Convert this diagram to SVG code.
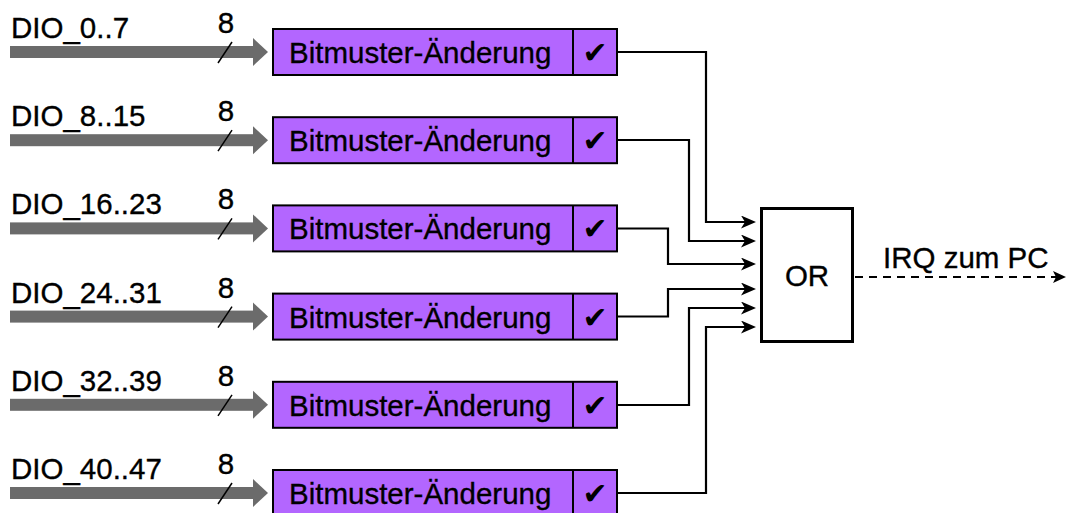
<svg xmlns="http://www.w3.org/2000/svg" width="1066" height="513" viewBox="0 0 1066 513">
<style>
.lbl{font-family:"Liberation Sans",Arial,sans-serif;font-size:29.5px;fill:#000;stroke:#000;stroke-width:0.35}
.box{fill:#b366ff;stroke:#000;stroke-width:2}
.bus{fill:#6b6b6b}
.slash{stroke:#000;stroke-width:1.5}
.chk{font-family:"DejaVu Sans",sans-serif;font-size:30px;font-style:italic;fill:#000;text-anchor:middle}
.wire{fill:none;stroke:#000;stroke-width:2.2}
</style>
<defs>
<marker id="ah" markerUnits="userSpaceOnUse" markerWidth="15" markerHeight="13" refX="9" refY="6.5" orient="auto">
<path d="M0,0 L15,6.5 L0,13 L4,6.5 z" fill="#000"/>
</marker>
<g id="stage">
<rect class="bus" x="10" y="-6" width="244" height="12"/>
<polygon class="bus" points="253,-14 268,0 253,14"/>
<line class="slash" x1="218" y1="11" x2="232" y2="-10"/>
<text class="lbl" x="226" y="-19" text-anchor="middle">8</text>
<rect class="box" x="273" y="-23" width="344" height="46"/>
<line x1="573" y1="-23" x2="573" y2="23" stroke="#000" stroke-width="2"/>
<text class="lbl" x="289" y="11">Bitmuster-Änderung</text>
<text class="chk" x="595" y="11">✔</text>
</g>
</defs>
<g id="n0" transform="translate(0,52)"><use href="#stage"/><text class="lbl" x="11" y="-14">DIO_0..7</text></g>
<g id="n1" transform="translate(0,140.2)"><use href="#stage"/><text class="lbl" x="11" y="-14">DIO_8..15</text></g>
<g id="n2" transform="translate(0,228.4)"><use href="#stage"/><text class="lbl" x="11" y="-14">DIO_16..23</text></g>
<g id="n3" transform="translate(0,316.6)"><use href="#stage"/><text class="lbl" x="11" y="-14">DIO_24..31</text></g>
<g id="n4" transform="translate(0,404.8)"><use href="#stage"/><text class="lbl" x="11" y="-14">DIO_32..39</text></g>
<g id="n5" transform="translate(0,493)"><use href="#stage"/><text class="lbl" x="11" y="-14">DIO_40..47</text></g>
<g id="or">
<rect x="761.5" y="208.5" width="91" height="133" fill="#fff" stroke="#000" stroke-width="3"/>
<text class="lbl" x="807" y="286" text-anchor="middle">OR</text>
</g>
<g id="connectors">
<path class="wire" d="M617 52 H706 V222 H750" marker-end="url(#ah)"/>
<path class="wire" d="M617 140 H689 V241 H750" marker-end="url(#ah)"/>
<path class="wire" d="M617 228.5 H668 V264 H750" marker-end="url(#ah)"/>
<path class="wire" d="M617 316.5 H668 V289 H750" marker-end="url(#ah)"/>
<path class="wire" d="M617 405 H689 V308 H750" marker-end="url(#ah)"/>
<path class="wire" d="M617 493 H706 V327 H750" marker-end="url(#ah)"/>
<path d="M855 277 H1058" fill="none" stroke="#000" stroke-width="2" stroke-dasharray="8,6"/>
<polygon points="1053,271 1066,277 1053,283 1056,277" fill="#000"/>
<text class="lbl" x="883" y="268">IRQ zum PC</text>
</g>
</svg>
